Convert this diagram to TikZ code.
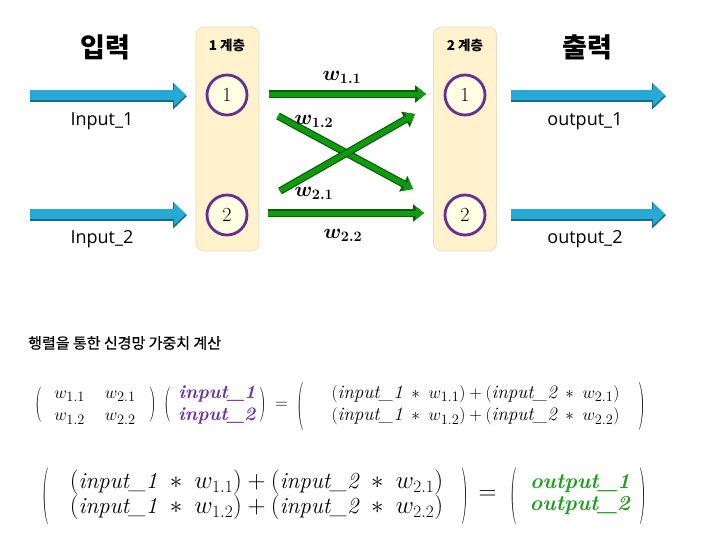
\documentclass[tikz,border=0pt]{standalone}
\usepackage{fontspec}
\usepackage{amsmath,bm,graphicx}
\setsansfont{Open Sans}
\newfontfamily\kr{Noto Sans CJK KR}
\newfontfamily\krm[FakeBold=0.6]{Noto Sans CJK KR}
\usetikzlibrary{arrows.meta}
\definecolor{boxfill}{HTML}{FFF2CC}
\definecolor{boxline}{HTML}{E8DFC4}
\definecolor{circfill}{HTML}{FFFFE3}
\definecolor{circline}{HTML}{6B2D90}
\definecolor{bluea}{HTML}{27A9D8}
\definecolor{blueb}{HTML}{1A6B88}
\definecolor{greena}{HTML}{109A10}
\definecolor{greenb}{HTML}{066006}
\definecolor{purp}{HTML}{7030A0}
\definecolor{outg}{HTML}{1E9E1E}
\tikzset{
  layerbox/.style={draw=boxline, fill=boxfill, rounded corners=8pt, minimum width=63pt, minimum height=224pt, line width=0.8pt},
  neuron/.style={circle, draw=circline, fill=circfill, line width=2.8pt, minimum size=40pt, inner sep=0pt, font=\fontsize{20}{20}\selectfont},
  bigkr/.style={font=\kr\bfseries\fontsize{27}{27}\selectfont},
  smallkr/.style={font=\kr\bfseries\fontsize{13.5}{13.5}\selectfont},
  iolabel/.style={font=\sffamily\fontsize{18}{18}\selectfont},
  wlabel/.style={font=\fontsize{20}{20}\selectfont},
  blueshadow/.style={line width=12pt, blueb, -{Triangle[length=14pt,width=26pt]}, transform canvas={yshift=-1.2pt}},
  bluearrow/.style={line width=10pt, bluea, -{Triangle[length=12pt,width=22pt]}},
  greenshadow/.style={line width=7.5pt, greenb, -{Triangle[length=11pt,width=17pt]}},
  greenarrow/.style={line width=5pt, greena, -{Triangle[length=8.5pt,width=13pt]}},
  paren/.style={inner sep=0pt, font=\fontsize{19}{19}\selectfont},
  eqa/.style={inner sep=0pt, font=\fontsize{19}{22.5}\selectfont},
  eqb/.style={inner sep=0pt, font=\fontsize{23}{22}\selectfont},
  eqc/.style={inner sep=0pt, font=\fontsize{21.5}{22}\selectfont},
}
\newcommand{\tp}[2]{\scalebox{1}[#1]{#2}}
\newcommand{\pin}[1]{\textcolor{purp}{\textbf{\textit{input\_#1}}}}
\newcommand{\pout}[1]{\textcolor{outg}{\textbf{\textit{output\_#1}}}}
\newcommand{\term}[2]{(\textit{input\_#1}\;\ast\; w_{#2})}
\begin{document}
\begin{tikzpicture}[x=1pt,y=-1pt]
\useasboundingbox (0,0) rectangle (702,554);
\fill[white] (0,0) rectangle (702,554);
% layer boxes
\node[layerbox] (L1) at (227.5,139) {};
\node[layerbox] (L2) at (465,139) {};
\node[smallkr] (L1t) at (227,45) {1 계층};
\node[smallkr] (L2t) at (465,45) {2 계층};
% neurons
\node[neuron] (a1) at (227,95) {1};
\node[neuron] (a2) at (227,215) {2};
\node[neuron] (b1) at (465,95) {1};
\node[neuron] (b2) at (465,215) {2};
% headings
\node[bigkr] (inh) at (105,47) {입력};
\node[bigkr] (outh) at (587,47) {출력};
% io coordinates
\coordinate (in1) at (30,95);
\coordinate (in2) at (30,214);
\coordinate (i1e) at (187,95);
\coordinate (i2e) at (187,214);
\coordinate (o1s) at (511,95);
\coordinate (o2s) at (511,214);
\coordinate (o1e) at (666,95);
\coordinate (o2e) at (666,214);
% blue arrows
\foreach \s/\e in {in1/i1e, in2/i2e, o1s/o1e, o2s/o2e}{
  \draw[blueshadow] (\s) -- (\e);
  \draw[bluearrow] (\s) -- ([xshift=-1pt]\e);
}
\node[iolabel] (il1) at (102,121) {Input\_1};
\node[iolabel] (il2) at (102,239) {Input\_2};
\node[iolabel] (ol1) at (585,121) {output\_1};
\node[iolabel] (ol2) at (585,239) {output\_2};
% green connector coordinates
\coordinate (g11s) at (269,94);
\coordinate (g11e) at (426,94);
\coordinate (g22s) at (268,213);
\coordinate (g22e) at (424,213);
\coordinate (g12s) at (278,116);
\coordinate (g12e) at (413,189);
\coordinate (g21s) at (280,191);
\coordinate (g21e) at (415,114);
\foreach \s/\e in {g11s/g11e, g22s/g22e, g12s/g12e, g21s/g21e}{
  \draw[greenshadow] (\s) -- (\e);
  \draw[greenarrow] (\s) -- (\e);
}
\node[wlabel] (w11) at (342,77) {$\bm{w_{1.1}}$};
\node[wlabel] (w12) at (314,121) {$\bm{w_{1.2}}$};
\node[wlabel] (w21) at (314,193) {$\bm{w_{2.1}}$};
\node[wlabel] (w22) at (343,235) {$\bm{w_{2.2}}$};
% title
\node[anchor=west, font=\krm\fontsize{15}{15}\selectfont, inner sep=0pt] (title) at (28,343) {행렬을 통한 신경망 가중치 계산};
% equation 1
\node[paren] (p1l) at (39,404.5) {\tp{1.85}{(}};
\node[eqa] (m1) at (95,405) {$\setlength\arraycolsep{10pt}\begin{matrix} w_{1.1} & w_{2.1}\\ w_{1.2} & w_{2.2}\end{matrix}$};
\node[paren] (p1r) at (153,404.5) {\tp{1.85}{)}};
\node[paren] (p2l) at (168,404.5) {\tp{1.85}{(}};
\node[eqa] (m2) at (217,405) {$\begin{matrix}\pin{1}\\ \pin{2}\end{matrix}$};
\node[paren] (p2r) at (263,404.5) {\tp{1.85}{)}};
\node[eqa] (e1) at (281.5,405) {$=$};
\node[paren] (p3l) at (301,406) {\tp{2.55}{(}};
\node[eqa] (m3) at (475.5,405) {$\begin{matrix}\term{1}{1.1}+\term{2}{2.1}\\ \term{1}{1.2}+\term{2}{2.2}\end{matrix}$};
\node[paren] (p3r) at (642,406) {\tp{2.55}{)}};
% equation 2
\node[paren] (p4l) at (46,496.5) {\tp{3}{(}};
\node[eqb] (m4) at (256.5,495) {$\begin{matrix}\term{1}{1.1}+\term{2}{2.1}\\ \term{1}{1.2}+\term{2}{2.2}\end{matrix}$};
\node[paren] (p4r) at (465,496.5) {\tp{3}{)}};
\node[eqb] (e2) at (487.5,495) {$=$};
\node[paren] (p5l) at (514,496.5) {\tp{3}{(}};
\node[eqc] (m5) at (580,495) {$\begin{matrix}\pout{1}\\ \pout{2}\end{matrix}$};
\node[paren] (p5r) at (643,496.5) {\tp{3}{)}};
\end{tikzpicture}
\end{document}
